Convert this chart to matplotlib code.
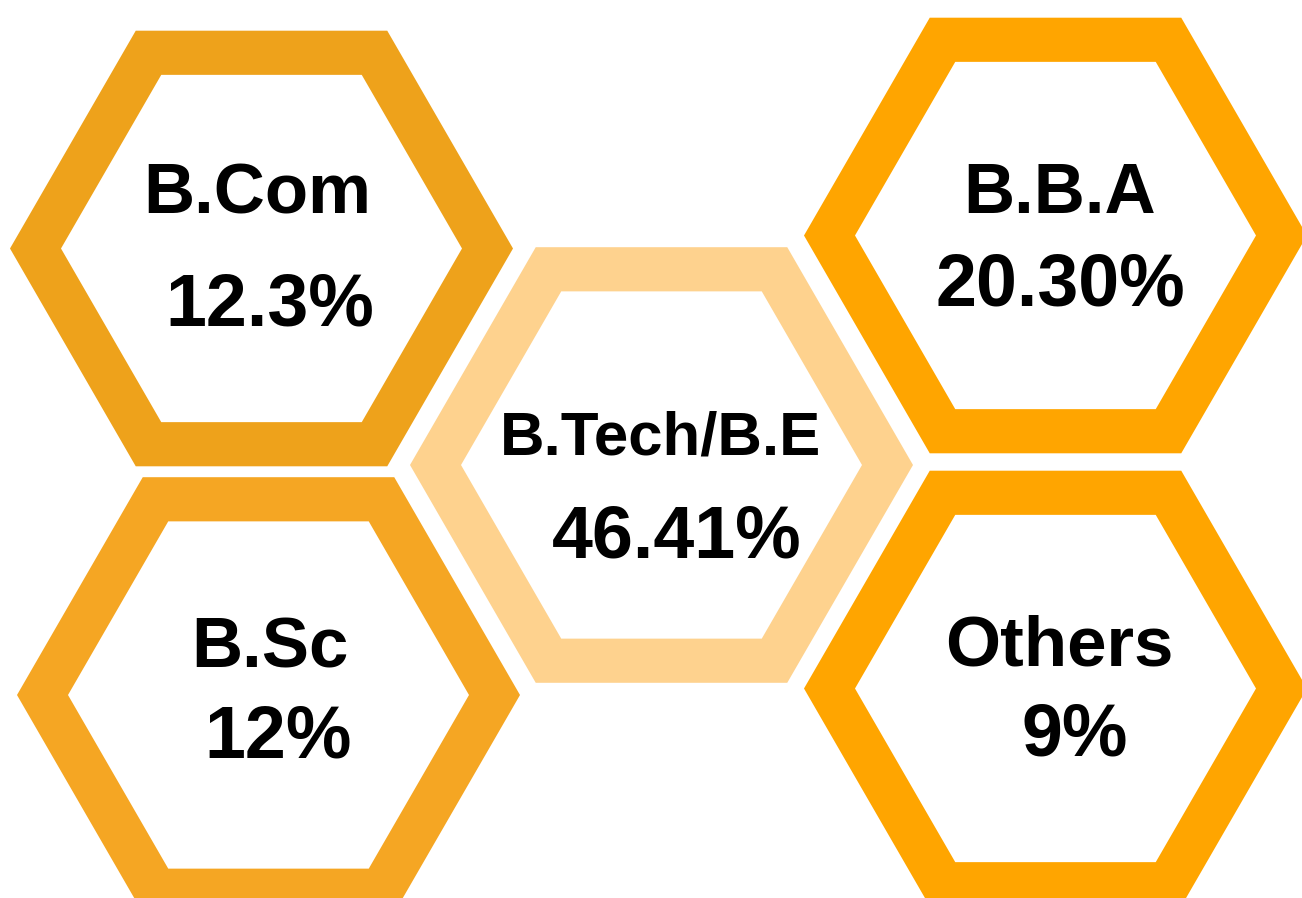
import numpy as np
import matplotlib
matplotlib.use("Agg")
import matplotlib.pyplot as plt
from matplotlib.path import Path
from matplotlib.patches import PathPatch

# data
categories = ["B.Com", "B.B.A", "B.Tech/B.E", "B.Sc", "Others"]
share_labels = ["12.3%", "20.30%", "46.41%", "12%", "9%"]

# layout (pixel coords, y downwards)
centers = [(261.5, 248.5), (1055.5, 235.5), (661.5, 465), (268.5, 695), (1055.5, 688.5)]
colors = ["#EEA21B", "#FFA500", "#FED28E", "#F5A623", "#FFA500"]
name_pos = [(257, 213), (1060, 213), (661, 455), (270, 668), (1059, 665)]
share_pos = [(270, 325), (1060, 305), (677, 557), (278, 757), (1075, 756)]
name_size = [51, 51, 44.5, 51, 51]
share_size = 53

R_OUT, R_IN = 251.5, 200.5


def hex_pts(cx, cy, r):
    ang = np.deg2rad(np.arange(0, 360, 60))
    return np.column_stack([cx + r * np.cos(ang), cy + r * np.sin(ang)])


fig = plt.figure(figsize=(13.02, 8.98), dpi=100)
ax = fig.add_axes([0, 0, 1, 1])
ax.set_xlim(0, 1302)
ax.set_ylim(898, 0)
ax.axis("off")

for (cx, cy), col in zip(centers, colors):
    outer = hex_pts(cx, cy, R_OUT)
    inner = hex_pts(cx, cy, R_IN)[::-1]
    verts = np.vstack([outer, outer[:1], inner, inner[:1]])
    codes = ([Path.MOVETO] + [Path.LINETO] * 5 + [Path.CLOSEPOLY]) * 2
    ax.add_patch(PathPatch(Path(verts, codes), facecolor=col, edgecolor="none"))

for i, cat in enumerate(categories):
    ax.text(*name_pos[i], cat, fontsize=name_size[i], fontweight="bold",
            family="Liberation Sans", ha="center", va="baseline")
    ax.text(*share_pos[i], share_labels[i], fontsize=share_size, fontweight="bold",
            family="Liberation Sans", ha="center", va="baseline")

fig.savefig("out.png", dpi=100)
